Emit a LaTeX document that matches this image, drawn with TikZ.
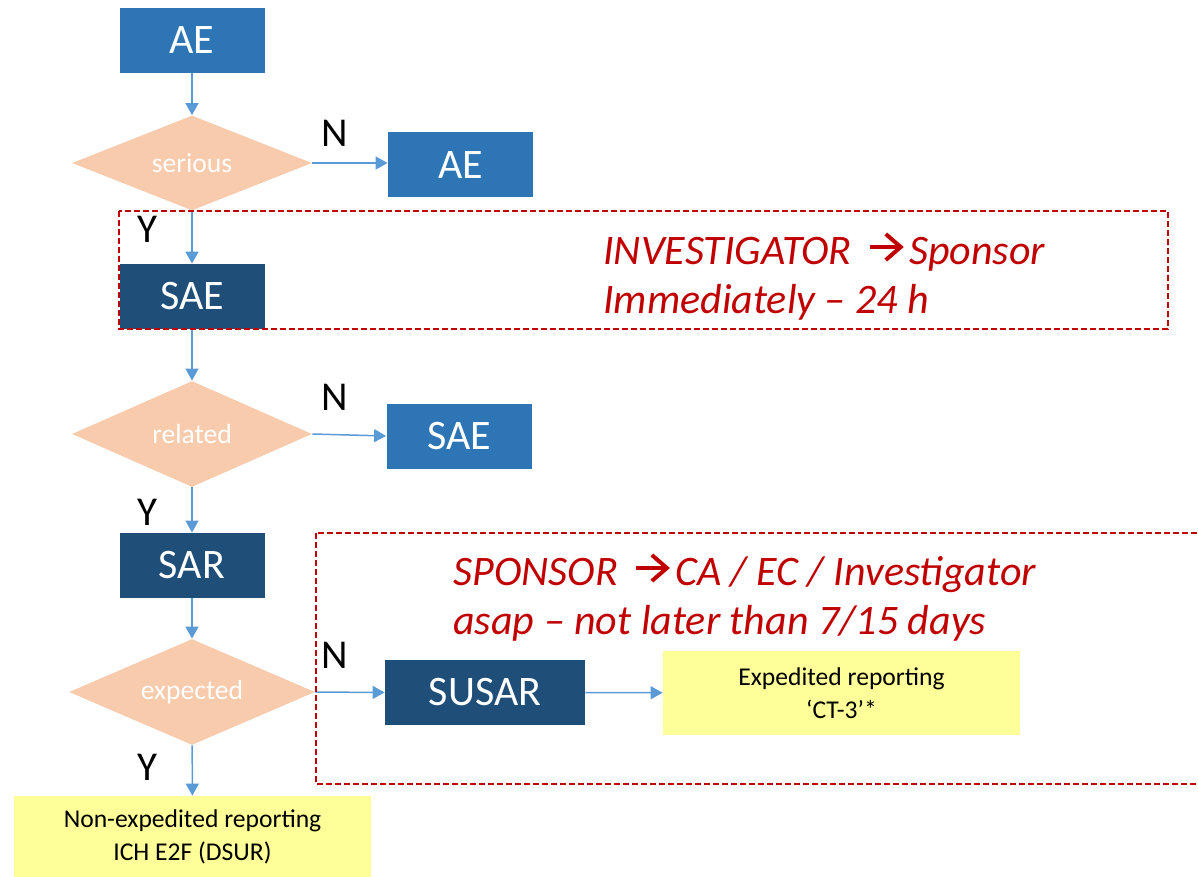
\documentclass[tikz,border=0pt]{standalone}
\usepackage{fontspec}
\setmainfont{Carlito}
\usepackage{tikz}
\usetikzlibrary{arrows.meta, shapes.geometric}

\definecolor{aeblue}{HTML}{2E75B6}
\definecolor{saeblue}{HTML}{1F4E79}
\definecolor{peach}{HTML}{F8CBAD}
\definecolor{pale}{HTML}{FFFF99}
\definecolor{flowblue}{HTML}{5B9BD5}
\definecolor{dutyred}{HTML}{C00000}

% the chevron arrow inside the red duty lines
\newcommand{\duto}{\hspace{8pt}\tikz[baseline=-8.5pt]\draw[dutyred, line width=2pt,
    -{Straight Barb[length=7.5pt, width=13pt]}] (0pt,0pt) -- (17pt,0pt);\hspace{1.5pt}}

\begin{document}
\begin{tikzpicture}[
            x=0.5pt, y=-0.5pt,
            >={Triangle[length=6pt, width=6.5pt]},
            evt/.style  ={fill=aeblue, text=white, inner sep=0pt,
                    minimum width=72.5pt, minimum height=32.5pt,
                    font=\fontsize{21}{25}\selectfont},
            sev/.style  ={evt, fill=saeblue},
            dec/.style  ={diamond, aspect=2.3, fill=peach, text=white, inner sep=0pt,
                    minimum width=120pt, minimum height=53pt,
                    font=\fontsize{13.8}{16}\selectfont},
            rep/.style  ={fill=pale, align=center, inner sep=0pt,
                    minimum width=178.5pt, font=\fontsize{12.8}{16.5}\selectfont},
            fl/.style   ={->, draw=flowblue, line width=0.75pt},
            zone/.style ={draw=dutyred, line width=1pt, dash pattern=on 3pt off 1.5pt},
            yn/.style   ={inner sep=0pt, font=\fontsize{20.5}{24}\selectfont},
            duty/.style ={anchor=base west, inner sep=0pt, text=dutyred,
                    font=\fontsize{21}{25}\selectfont\itshape}
        ]
        \clip (0,0) rectangle (1198,877);

        %% --- main column ---
        \node[evt] (ae) at (192,40.5) {AE};
        \node[dec, minimum height=47.5pt] (serious) at (192,163) {serious};
        \node[sev] (sae) at (192,296.5) {SAE};
        \node[dec] (related) at (192,434) {related};
        \node[sev] (sar) at (192,565.5) {SAR};
        \node[dec, minimum width=123pt] (expected) at (192,692) {expected};
        \node[rep, minimum height=41pt] (dsur) at (192.5,837)
              {Non-expedited reporting\\ICH E2F (DSUR)};

        %% --- "no" branches ---
        \node[evt] (aeN) at (460.5,165) {AE};
        \node[evt] (saeN) at (459,436) {SAE};
        \node[sev, minimum width=100pt] (susar) at (485,692.5) {SUSAR};
        \node[rep, minimum height=42pt] (ctthree) at (841.5,693)
              {Expedited reporting\\‘CT-3’*};

        %% --- Y / N labels ---
        \node[yn] (n1) at (335,133) {N};
        \node[yn] (n2) at (335,397) {N};
        \node[yn] (n3) at (335,655) {N};
        \node[yn] (y1) at (147,229) {Y};
        \node[yn] (y2) at (147,512) {Y};
        \node[yn] (y3) at (147,767) {Y};

        %% --- connectors ---
        \draw[fl] (ae) -- (serious);
        \draw[fl] (serious) -- (sae);
        \draw[fl] (sae) -- (related);
        \draw[fl] (related) -- (sar);
        \draw[fl] (sar) -- (expected);
        \draw[fl] (expected) -- (dsur);
        \draw[fl] (serious.east) -- (serious.east -| aeN.west);
        \draw[fl] (related.east) -- (saeN.west);
        \draw[fl] (expected.east) -- (susar.west);
        \draw[fl] (susar) -- (ctthree);

        %% --- reporting duties ---
        \node[duty] (inv1) at (603,264) {INVESTIGATOR\duto Sponsor};
        \node[duty] (inv2) at (603,313) {Immediately -- 24 h};
        \node[duty] (spo1) at (453,585) {SPONSOR\duto CA / EC / Investigator};
        \node[duty] (spo2) at (453,634) {asap -- not later than 7/15 days};

        \draw[zone] (119,211) rectangle (1168,329);
        \draw[zone] (316,533) rectangle (1212,784);

    \end{tikzpicture}
\end{document}
